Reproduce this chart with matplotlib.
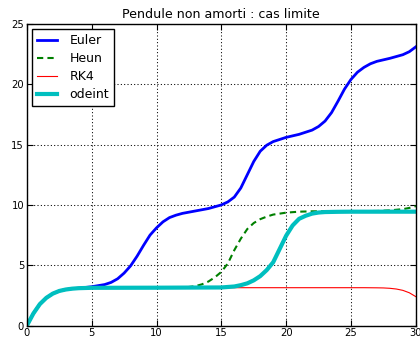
import numpy as np
import matplotlib.pyplot as plt

# temps et angle (rad) pour chaque methode
t_euler = [0, 0.5, 1, 1.5, 2, 2.5, 3, 3.5, 4, 5, 6, 6.5, 7, 7.5, 8, 8.5, 9, 9.5,
           10, 10.5, 11, 11.5, 12, 13, 14, 15, 15.5, 16, 16.5, 17, 17.5, 18, 18.5,
           19, 20, 21, 22, 22.5, 23, 23.5, 24, 24.5, 25, 25.5, 26, 26.5, 27, 28,
           29, 29.5, 30]
theta_euler = [0, 1.0, 1.78, 2.3, 2.65, 2.87, 2.99, 3.06, 3.1, 3.22, 3.4, 3.58,
               3.88, 4.35, 4.95, 5.75, 6.65, 7.5, 8.1, 8.6, 8.95, 9.15, 9.3, 9.5,
               9.7, 10.0, 10.25, 10.65, 11.4, 12.5, 13.6, 14.45, 14.95, 15.25,
               15.6, 15.85, 16.2, 16.5, 16.95, 17.65, 18.6, 19.6, 20.4, 21.0,
               21.4, 21.7, 21.9, 22.15, 22.45, 22.7, 23.1]

t_heun = [0, 0.5, 1, 1.5, 2, 2.5, 3, 3.5, 4, 5, 10, 12, 12.5, 13, 13.5, 14, 14.5,
          15, 15.5, 16, 16.5, 17, 17.5, 18, 18.5, 19, 20, 21, 22, 25, 27, 28, 29,
          29.5, 30]
theta_heun = [0, 1.0, 1.78, 2.3, 2.65, 2.87, 2.99, 3.06, 3.1, 3.13, 3.14, 3.15,
              3.2, 3.27, 3.42, 3.65, 4.0, 4.45, 5.15, 6.25, 7.2, 8.0, 8.5, 8.82,
              9.03, 9.2, 9.36, 9.44, 9.47, 9.48, 9.5, 9.55, 9.65, 9.75, 9.9]

t_rk4 = [0, 0.5, 1, 1.5, 2, 2.5, 3, 3.5, 4, 5, 10, 20, 26, 27, 27.5, 28, 28.5,
         29, 29.5, 30]
theta_rk4 = [0, 1.0, 1.78, 2.3, 2.65, 2.87, 2.99, 3.06, 3.1, 3.13, 3.14, 3.14,
             3.14, 3.13, 3.12, 3.09, 3.03, 2.92, 2.72, 2.4]

t_odeint = [0, 0.5, 1, 1.5, 2, 2.5, 3, 3.5, 4, 5, 10, 15, 16, 16.5, 17, 17.5, 18,
            18.5, 19, 19.5, 20, 20.5, 21, 21.5, 22, 22.5, 23, 24, 25, 30]
theta_odeint = [0, 1.0, 1.78, 2.3, 2.65, 2.87, 2.99, 3.06, 3.1, 3.13, 3.14, 3.16,
                3.24, 3.35, 3.5, 3.75, 4.1, 4.6, 5.25, 6.35, 7.45, 8.3, 8.85,
                9.1, 9.28, 9.37, 9.41, 9.43, 9.44, 9.44]

fig = plt.figure(figsize=(4.2, 3.42), dpi=100)
ax = fig.add_axes([0.064, 0.048, 0.926, 0.882])

ax.plot(t_euler, theta_euler, 'b', lw=2, label='Euler')
ax.plot(t_heun, theta_heun, 'g--', lw=1.5, dashes=(3, 2), label='Heun')
ax.plot(t_rk4, theta_rk4, 'r', lw=0.8, label='RK4')
ax.plot(t_odeint, theta_odeint, 'c', lw=3, label='odeint')

ax.set_xlim(0, 30)
ax.set_ylim(0, 25)
ax.set_xticks(np.arange(0, 31, 5))
ax.set_yticks(np.arange(0, 26, 5))
ax.grid(True, linestyle=(0, (1, 2.2)), color='k', lw=0.75)
ax.tick_params(direction='in', top=True, right=True, length=4, labelsize=7.2, pad=2)
for sp in ax.spines.values():
    sp.set_linewidth(1)

ax.set_title('Pendule non amorti : cas limite', fontsize=9.1, pad=4)
leg = ax.legend(loc='upper left', fontsize=9, fancybox=False, framealpha=1,
                edgecolor='k', handlelength=1.6, handletextpad=1.0,
                labelspacing=0.4, borderaxespad=0.4)
leg.get_frame().set_linewidth(1)

fig.savefig('out.png', dpi=100)
